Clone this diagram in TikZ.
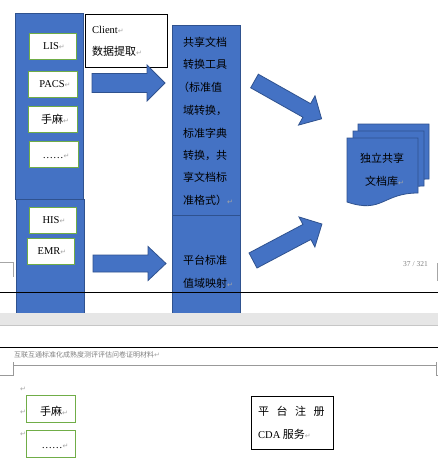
\documentclass[tikz,border=0pt]{standalone}
\usepackage{fontspec}
\setmainfont{Liberation Serif}
\newfontfamily\cjk{Noto Sans CJK SC}
\newfontfamily\djv{DejaVu Sans}
\definecolor{wblue}{HTML}{4472C4}
\definecolor{wbord}{HTML}{2F528F}
\definecolor{wgreen}{HTML}{70AD47}
\definecolor{pmgray}{HTML}{A6A6A6}
\definecolor{bandgray}{HTML}{E6E6E6}
\newcommand\pmk{{\djv\color{pmgray}\fontsize{7}{7}\selectfont ↵}}
\newcommand\blockarrow[7]{%
  \begin{scope}[shift={(#1,#2)},rotate=#3]
    \draw[blk] (0,-#5) -- (#4-#7,-#5) -- (#4-#7,-#6) -- (#4,0) -- (#4-#7,#6) -- (#4-#7,#5) -- (0,#5) -- cycle;
  \end{scope}}
\begin{document}
\begin{tikzpicture}[x=1pt,y=-1pt,
  blk/.style={fill=wblue,draw=wbord,line width=0.8pt},
  gbox/.style={draw=wgreen,fill=white,line width=1pt,inner sep=0pt,anchor=north west},
  kbox/.style={draw=black,fill=white,line width=1pt,inner sep=0pt,anchor=north west},
  lat/.style={font=\fontsize{10.5}{12}\selectfont,inner sep=0pt},
  zh/.style={font=\cjk\fontsize{11}{12}\selectfont,inner sep=0pt},
  hd/.style={font=\cjk\fontsize{7}{8}\selectfont,text=gray,inner sep=0pt}]
\useasboundingbox (0,0) rectangle (438,463);
\fill[white] (0,0) rectangle (438,463);

% page-corner marks
\draw[gray!70,line width=0.6pt] (0,262) -- (13,262) -- (13,277);
\draw[gray!70,line width=0.6pt] (437,263) -- (437,281);
\node[font=\fontsize{7.5}{8}\selectfont,text=gray,anchor=west,inner sep=0pt] (pg) at (403,264) {37 / 321};

% blue columns
\draw[blk] (15,13) rectangle (83,199);
\draw[blk] (16,199) rectangle (84,313);
\draw[blk] (172,25) rectangle (240,215);
\draw[blk] (172,215) rectangle (240,313);

% source boxes
\node[gbox,minimum width=47pt,minimum height=26pt] (lis) at (29,33) {};
\node[lat] (lisT) at (54,46) {LIS\pmk};
\node[gbox,minimum width=49pt,minimum height=26pt] (pacs) at (28,71) {};
\node[lat] (pacsT) at (55,84) {PACS\pmk};
\node[gbox,minimum width=49pt,minimum height=26pt] (sm) at (28,106) {};
\node[zh] (smT) at (55,119) {手麻\pmk};
\node[gbox,minimum width=49pt,minimum height=26pt] (dots) at (29,141) {};
\node[lat] (dotsT) at (56,156) {……\pmk};
\node[gbox,minimum width=47pt,minimum height=26pt] (his) at (29,207) {};
\node[lat] (hisT) at (54,220) {HIS\pmk};
\node[gbox,minimum width=47pt,minimum height=26pt] (emr) at (27,238) {};
\node[lat] (emrT) at (52,251) {EMR\pmk};

% client box
\node[kbox,minimum width=82pt,minimum height=53pt] (client) at (85,14) {};
\node[lat,anchor=west] (clientT) at (92,30) {Client\pmk};
\node[zh,anchor=west] (clientZ) at (92,51) {数据提取\pmk};

% arrows
\blockarrow{92}{83}{0}{73}{9.5}{18}{18}
\blockarrow{93}{263.5}{0}{73}{8.5}{17}{18}
\blockarrow{254.5}{81}{-29.4}{77}{7.8}{16.8}{17}
\blockarrow{253}{260.5}{27.9}{78}{8.5}{17}{17}

% middle column text
\node[zh,anchor=west] (m1) at (183,42) {共享文档};
\node[zh,anchor=west] (m2) at (183,64) {转换工具};
\node[zh,anchor=west] (m3) at (178,87) {（标准值};
\node[zh,anchor=west] (m4) at (183,110) {域转换，};
\node[zh,anchor=west] (m5) at (183,133) {标准字典};
\node[zh,anchor=west] (m6) at (183,155) {转换，共};
\node[zh,anchor=west] (m7) at (183,177) {享文档标};
\node[zh,anchor=west] (m8) at (183,200) {准格式）\pmk};
\node[zh,anchor=west] (m9) at (183,260) {平台标准};
\node[zh,anchor=west] (m10) at (183,283) {值域映射\pmk};

% document stack
\draw[blk] (358,124) -- (429,124) -- (429,179) .. controls (393.5,179) and (393.5,200) .. (358,188) -- cycle;
\draw[blk] (353,131) -- (424,131) -- (424,186) .. controls (388.5,186) and (388.5,207) .. (353,195) -- cycle;
\draw[blk] (347,138) -- (418,138) -- (418,193) .. controls (382.5,193) and (382.5,214) .. (347,202) -- cycle;
\node[zh,anchor=west] (d1) at (360,158) {独立共享};
\node[zh,anchor=west] (d2) at (365,181) {文档库\pmk};

% page break
\draw[black,line width=1pt] (0,292) -- (438,292);
\fill[bandgray] (0,313) rectangle (438,325);
\draw[gray!45,line width=0.8pt] (0,325.5) -- (438,325.5);
\draw[black,line width=1pt] (0,347) -- (438,347);
\node[hd,anchor=west] (hdr) at (14,354.5) {互联互通标准化成熟度测评评估问卷证明材料\pmk};
\draw[gray!80,line width=0.6pt] (0,375) -- (13,375) -- (13,362);
\draw[gray!80,line width=0.6pt] (13,365) -- (436,365);
\draw[gray!80,line width=0.6pt] (438,375) -- (436,375) -- (436,362);

% lower page
\node[anchor=center,inner sep=0pt] (p0) at (23,389) {\pmk};
\node[anchor=center,inner sep=0pt] (p1) at (23,412) {\pmk};
\node[anchor=center,inner sep=0pt] (p2) at (23,434) {\pmk};
\node[gbox,minimum width=49pt,minimum height=27pt] (sm2) at (26,395) {};
\node[zh] (sm2T) at (54,411) {手麻\pmk};
\node[gbox,minimum width=49pt,minimum height=27pt] (dots2) at (26,430) {};
\node[lat] (dots2T) at (55,446) {……\pmk};
\node[kbox,minimum width=82pt,minimum height=53pt] (cda) at (251,396) {};
\node[zh,anchor=west] (cda1) at (258,411) {平\hspace{7.5pt}台\hspace{7.5pt}注\hspace{7.5pt}册};
\node[anchor=west,inner sep=0pt] (cda2) at (258,434) {\fontsize{10.5}{12}\selectfont CDA {\cjk\fontsize{11}{12}\selectfont 服务}\pmk};
\end{tikzpicture}
\end{document}
